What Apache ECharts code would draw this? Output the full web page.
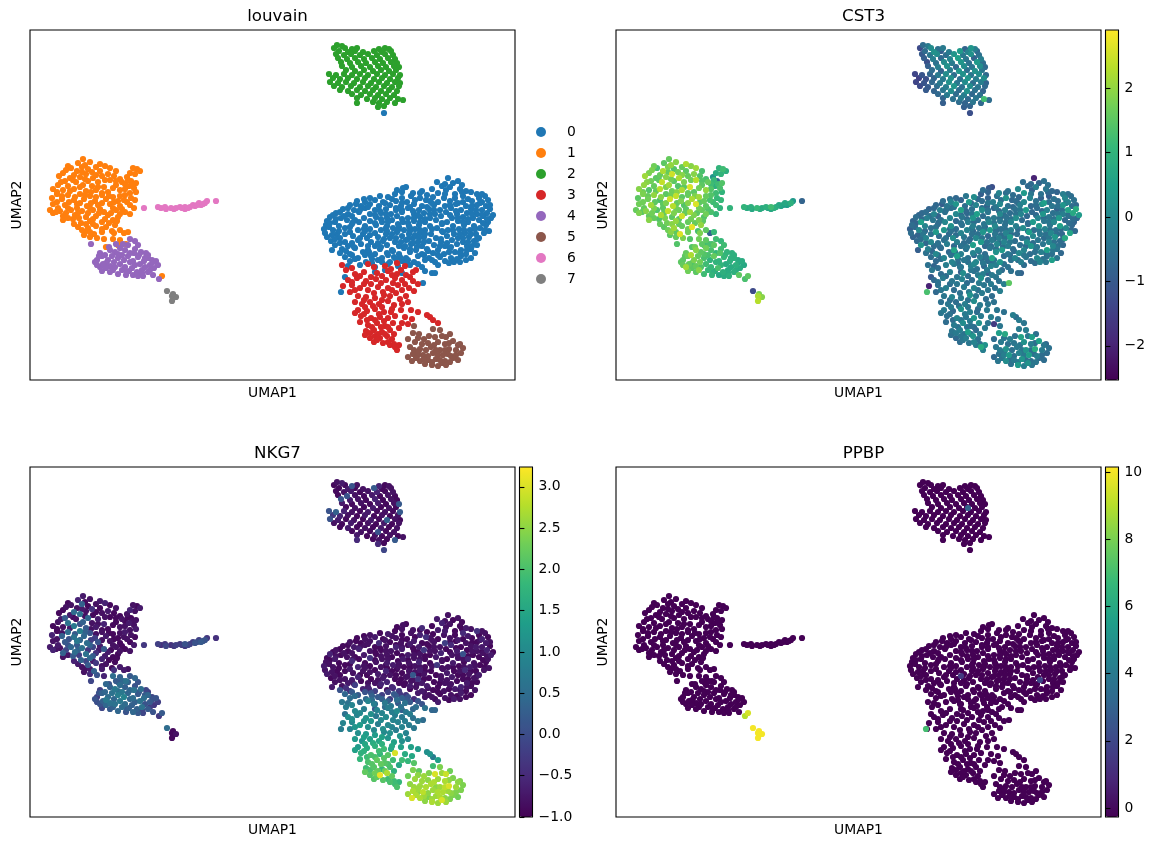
<!DOCTYPE html>
<html><head><meta charset="utf-8">
<style>html,body{margin:0;padding:0;background:#fff}#c{width:1158px;height:847px}</style>
<script src="https://cdn.jsdelivr.net/npm/echarts@6/dist/echarts.min.js"></script>
</head><body><div id="c"></div>
<script>
// rows: [UMAP1, UMAP2, CST3, NKG7, PPBP (only when above baseline)]
const cluster0 = [
[418,202,-2,-.8],[407,198,-.6,-.7],[423,197,-.8,-.9],[428,199,-.5,-.8],[376,193,-1.2,-.9],[412,194,-.7,-.6],[420,193,-.2,-.8],
[367,190,-.6,-.9],[373,192,-1,-.8],[392,189,-.5,-.5],[402,191,0,-.9],[416,190,-.8,-.8],[430,191,-.4,-.9],[436,189,-.7,-.7],
[365,186,-.9,-.9],[383,187,-.1,-.8],[397,185,-.6,-.9],[408,187,.4,-.7],[425,186,-.5,-.9],[441,188,-.8,-.8],[447,186,-.2,-.4],
[340,182,-.7,-.8],[350,184,-.4,-.9],[358,183,.1,-.7],[372,182,-.8,-.9],[381,184,-.5,-.8],[390,182,.2,-.6],[403,183,-.7,-.9],[414,182,-.1,-.8],[433,184,-.9,-.5],[449,182,0,-.9],[455,184,-.6,-.8],
[327,179,-.6,-.9],[335,178,-.1,-.8],[345,180,-.8,-.7],[353,178,.4,-.9],[366,179,-.6,-.8],[377,178,-.2,-.9],[396,180,-.7,-.4],[408,178,0,-.9],[420,179,-.5,-.8],[428,177,.5,-.7],[442,179,-.6,-.9],[452,178,-.1,-.6],[458,180,-.5,-.9],
[320,175,-.7,-.8],[331,174,-.4,-.9],[340,176,.3,-.8],[349,174,-.6,-.5],[360,175,-.1,-.9],[371,174,-.8,-.8],[384,176,0,-.7],[392,174,-.5,-.9],[404,175,-.2,-.8],[415,174,-.7,-.2],[426,176,.2,-.9],[436,174,-.4,-.8],[447,175,.3,-.9],[456,174,-.6,-.7],
[313,171,-.8,-.9],[324,170,-.2,-.7],[335,172,-.6,-.8],[345,170,.6,-.9],[356,171,-.5,-.8],[366,170,.1,-.6],[378,172,-.7,-.9],[389,170,-.2,-.7],[399,171,-.5,-.9],[410,170,.4,-.8],[421,172,-.6,-.5],[431,170,-.1,-.9],[441,171,-.8,-.8],[452,170,.6,-.7],[460,171,.8,-.9],
[306,167,-.7,-.8],[318,166,-.1,-.9],[329,168,-.5,-.6],[340,166,0,-.8],[351,167,-.7,-.9],[361,166,.5,-.8],[372,168,-.4,-.7],[384,166,0,-.9],[394,167,-.6,-.3],[405,166,-.1,-.8],[416,168,-.7,-.9],[427,166,.3,-.7],[437,167,-.5,-.9],[447,166,-.2,-.8],[457,167,.7,-.6],[463,165,.4,-.9],
[300,163,-.6,-.6],[311,162,-.2,-.9],[322,164,-.8,-.8],[334,162,-.1,-.7],[346,163,-.4,-.9],[357,162,.3,-.8],[367,164,-.6,-.9],[378,162,-.3,-.7],[390,163,-.5,-.8],[400,162,.1,-.9],[411,164,-.7,-.6],[422,162,-.1,-.8],[433,163,-.4,.1],[443,162,.4,-.9],[453,164,-.5,-.8],[461,162,-.7,-.7],
[297,159,-.8,-.9],[305,158,.5,-.7],[317,160,-.4,-.8],[329,158,0,-.9],[340,159,-.7,-.4],[352,158,-.2,-.8],[362,160,-.5,-.9],[373,158,0,-.7],[384,159,-.4,-.8],[395,158,-.1,-.9],[406,160,-.6,-.7],[417,158,.4,-.9],[428,159,-.4,-.8],[438,158,0,-.6],[449,160,-.7,-.9],[458,158,-.8,-.8],
[296,155,-.6,-.8],[309,154,-.1,-.9],[322,156,-.7,-.5],[335,154,.2,-.9],[346,155,-.5,-.8],[357,154,-.2,-.7],[368,156,-.4,-.9],[379,154,0,-.8],[389,155,-.5,-.6],[400,154,-.2,-.9],[412,156,-.6,-.8],[423,154,.3,-.7],[434,155,-.4,-.9],[444,154,.5,-.8],[456,155,-.7,-.9],
[294,151,-.9,-.7],[303,150,0,-.8],[315,152,-.5,-.9],[328,150,.3,-.6],[340,151,-.6,-.9],[351,150,-.1,-.8],[363,152,-.4,-.7],[374,150,.4,-.9],[385,151,-.5,-.8],[395,150,-.2,-.9],[407,152,.1,-.3],[418,150,-.6,-.8],[429,151,-.1,-.9],[440,150,-.5,-.7],[450,152,0,-.9],[459,149,-.7,-.8],
[295,147,-.6,-.8],[307,146,-.4,-.9],[320,148,.4,-.7],[333,146,-.7,-.8],[345,147,-.1,-.9],[356,146,-.5,-.6],[367,148,.3,-.9],[379,146,-.4,-.8],[390,147,-.1,-.7],[401,146,-.6,-.9],[413,148,.5,-.8],[424,146,-.4,-.9],[435,147,0,-.5],[446,146,-.7,-.9],[454,147,.6,-.8],
[297,143,-.8,-.7],[310,142,-.1,-.9],[323,144,-.6,-.8],[337,142,.1,-.9],[348,143,-.4,-.7],[360,142,0,-.8],[372,144,-.7,-.9],[383,142,-.2,.2],[394,143,.4,-.8],[406,142,-.5,-.9],[417,144,0,-.7],[428,142,-.6,-.9],[439,143,.3,-.8],[449,142,.7,-.7],
[301,139,-.7,-.9],[315,138,0,-.8],[328,140,-.5,-.6],[341,138,-.2,-.9],[353,139,-.6,-.7],[365,138,.4,-.9],[376,140,-.3,-.8],[388,138,-.1,-.4],[399,139,-.6,-.9],[411,138,.1,-.8],[422,140,-.4,-.7],[433,138,-.1,-.9],[444,139,-.6,-.8],
[305,135,.2,-.8],[318,134,-.6,-.7],[331,136,-.2,-.9],[345,134,-.5,-.8],[357,135,.5,-.6],[369,134,-.7,-.9],[381,136,0,-.8],[392,134,-.2,-.7],[404,135,-.5,-.9],[415,134,.3,-.8],[427,136,-.4,-.9],[437,134,0,-.7],[447,135,-.7,-.9],
[302,130,-.9,-.7],[312,131,-.2,-.8],[325,132,-.6,-.2],[338,130,.6,-.7],[350,131,-.5,-.8],[362,130,-.1,-.6],[374,132,-.4,-.9],[386,130,.4,-.8],[397,131,-.6,-.7],[408,130,-.1,-.9],[420,132,-.5,-.8],[431,130,.5,-.6],[441,131,-.4,-.9],
[310,127,-.5,.1],[320,126,0,-.4],[333,128,-.7,-.6],[345,126,-.2,-.2],[357,127,-.1,-.8],[369,126,-.6,-.3],[380,128,.2,-.9],[392,126,-.4,-.7],[403,127,0,-.9],[414,126,-.6,-.8],[425,128,-.2,-.7],[436,126,-.5,-.9],[445,127,-.7,-.8],
[315,123,-.6,.4],[328,122,-.1,.2],[341,124,.5,.1],[352,122,-.5,-.2],[364,123,-.2,.2],[376,122,.6,-.3],[388,124,-.6,-.7],[399,122,-.1,-.8],[410,123,-.4,-.9],[421,122,0,-.8],[431,124,-.5,-.7],[441,122,-.4,-.9],
[320,119,-.7,.5],[336,118,-.1,.4],[348,120,-.4,.2],[360,118,0,-.2],[372,119,-.6,.3],[384,118,.3,-.5],[395,120,-.5,-.8],[405,118,-.2,-.9],[415,119,-.6,-.8],[424,118,-.1,-.7],[436,120,.5,-.9],
[318,114,-.8,.6],[330,115,-.2,.5],[345,113,-.5,.4],[358,116,0,.3],[368,114,-.7,.2],[380,115,-.2,.2],[392,113,-.5,.1],[408,115,-.6,-.7],[345,108,-.9,.2],[355,110,-.4,.5],[402,107,-.6,.4],[395,109,-.5,.6],[372,107,-.8,.3],[354,267,-1.2,-.1],
[311,88,1.3,.8],[393,97,1.5,.5],[315,103,-1,.6],[405,107,-.8,.4]
];
const cluster0Fill = [
[415,196,-.7,-.8],[432,195,-.5,-.9],[372,188,-.8,-.8],[390,187,-.6,-.9],[415,186,-.4,-.7],[432,188,-.7,-.9],[452,186,-.5,-.8],[334,181,-.6,-.9],[362,181,-.7,-.8],[385,180,-.5,-.9],[400,179,-.6,-.8],[425,182,-.8,-.9],[438,181,-.5,-.7],
[326,176,-.9,-.9],[355,177,-.6,-.8],[372,177,-.4,-.9],[402,177,-.7,-.8],[433,178,-.5,-.9],[450,177,-.6,-.8],[318,172,-.7,-.9],[338,173,-.5,-.8],[366,172,-.6,-.9],[380,173,-.4,-.7],[397,173,-.7,-.9],[420,175,-.6,-.8],[442,174,-.5,-.9],[460,175,-.7,-.8],
[310,168,-.6,-.9],[330,170,-.5,-.8],[350,169,-.7,-.9],[372,170,-.5,-.8],[383,169,-.6,-.9],[404,170,-.4,-.8],[426,169,-.7,-.9],[446,170,-.5,-.7],[303,165,-.8,-.9],[314,164,-.5,-.8],[345,165,-.6,-.9],[356,166,-.4,-.8],[388,165,-.6,-.9],[400,166,-.5,-.8],[420,165,-.7,-.9],[442,166,-.4,-.8],[452,165,-.6,-.9],
[306,161,-.7,-.8],[325,160,-.5,-.9],[351,161,-.6,-.8],[372,161,-.4,-.9],[384,162,-.6,-.8],[395,161,-.5,-.9],[428,162,-.7,-.8],[438,161,-.5,-.9],[457,161,-.6,-.8],[300,157,-.8,-.9],[323,158,-.6,-.8],[345,157,-.5,-.9],[358,158,-.6,-.8],[378,157,-.4,-.9],[390,158,-.5,-.8],[412,157,-.7,-.9],[433,158,-.4,-.8],[453,157,-.6,-.9],
[299,153,-.7,-.8],[320,153,-.5,-.9],[334,151,-.6,-.8],[356,152,-.4,-.9],[369,153,-.7,-.8],[380,152,-.5,-.9],[402,151,-.6,-.8],[423,150,-.4,-.9],[445,151,-.7,-.8],[309,149,-.6,-.9],[335,149,-.5,-.8],[357,149,-.7,-.9],[368,150,-.4,-.8],[380,149,-.6,-.9],[390,150,-.5,-.8],[412,149,-.6,-.9],[434,150,-.5,-.8],[455,150,-.7,-.9],
[302,145,-.8,-.8],[315,146,-.5,-.9],[340,145,-.6,-.8],[362,146,-.5,-.9],[385,145,-.6,-.8],[395,146,-.7,-.9],[430,146,-.5,-.8],[441,146,-.6,-.9],[305,141,-.6,-.8],[330,142,-.5,-.9],[354,141,-.7,-.8],[366,142,-.4,-.9],[378,141,-.6,-.8],[389,142,-.5,-.9],[411,141,-.7,-.8],[433,142,-.4,-.9],[447,141,-.6,-.8],
[310,137,-.7,-.8],[322,137,-.5,-.7],[348,137,-.6,-.8],[371,138,-.5,-.9],[383,137,-.7,-.8],[394,138,-.4,-.9],[417,137,-.6,-.8],[438,138,-.5,-.9],[324,133,-.6,-.7],[338,134,-.7,-.8],[351,133,-.4,-.6],[375,134,-.6,-.9],[387,133,-.5,-.8],[410,134,-.6,-.9],[421,133,-.4,-.8],[442,134,-.5,-.9],
[316,129,-.7,-.4],[339,128,-.5,-.6],[363,129,-.6,-.5],[380,131,-.5,-.7],[398,129,-.6,-.8],[419,128,-.5,-.9],[437,130,-.4,-.8],[322,125,-.6,.2],[335,125,-.5,.1],[358,125,-.7,-.2],[370,123,-.5,-.3],[394,125,-.6,-.8],[408,125,-.4,-.9],[430,127,-.6,-.8],
[325,121,-.6,.5],[342,121,-.5,.3],[366,121,-.7,.2],[378,120,-.4,.1],[402,120,-.6,-.8],[427,121,-.5,-.9],[342,117,-.6,.5],[352,118,-.5,.3],[376,117,-.7,.2],[388,116,-.5,.1],[419,117,-.6,-.9],[430,118,-.4,-.8]
];
const cluster1 = [
[53,221,1.6,-.7],[60,218,1.9,-.8],[48,217,1.5,-.6],[38,214,1.7,-.9],[41,212,1.3,-.8],[55,215,2,-.9],[70,216,2.2,-.7],[52,213,1.8,.3],[58,211,1.4,-.9],[66,213,1.6,-.8],[75,214,1.9,-.6],[80,212,2.1,-.9],
[47,209,2.2,-.8],[62,208,1.7,-.4],[70,209,1.5,-.9],[86,209,1.3,-.8],[107,211,1.2,-.9],[103,212,1,-.8],[110,209,.9,-.7],[33,207,1.8,-.9],[44,205,1.6,.5],[56,206,2.5,-.8],[78,206,1.9,-.7],[84,204,1.4,-.9],[100,207,.8,-.6],[105,206,1,-.8],
[29,204,2.1,-.9],[40,202,1.5,-.7],[50,203,1.9,.6],[63,202,2.2,-.9],[72,204,1.6,-.8],[90,201,1.3,-.9],[97,203,.3,-.8],[35,199,1.7,.2],[46,198,2.4,-.8],[58,199,1.5,.4],[68,198,1.8,-.7],[80,200,2.3,-.9],[92,198,1.6,-.8],[101,199,-.7,-.9],[95,196,1.2,-.9],
[28,195,2,-.8],[38,194,1.6,.6],[53,195,2.1,.3],[62,194,1.4,-.8],[74,193,2.6,-.6],[86,195,1.5,-.9],[99,194,.9,-.7],[104,192,1.3,-.8],[23,191,1.9,-.9],[33,190,1.4,-.8],[44,191,2.3,.7],[56,189,1.7,.2],[66,190,2.2,-.7],[78,188,1.5,-.9],[90,190,2,-.8],[106,188,1,-.7],
[27,186,1.8,-.9],[38,185,2,.5],[50,186,1.5,.8],[60,184,2.4,.1],[72,185,1.6,-.8],[83,183,2.1,-.9],[95,185,1.4,-.7],[101,182,1.1,-.8],[22,182,1.5,-.6],[32,181,1.7,.3],[44,180,1.3,.6],[54,181,2.5,.4],[65,179,1.8,-.2],[76,181,2.2,-.7],[88,179,1.6,-.9],[97,178,1.2,-.8],
[23,176,1.7,-.8],[35,175,2.1,.2],[47,176,1.5,.7],[57,174,2.3,.5],[68,175,1.4,.1],[80,176,2.6,-.8],[90,174,1.5,-.9],[104,172,1,-.7],[20,170,1.6,-.7],[30,169,1.9,-.8],[41,170,1.4,.4],[52,169,2.4,.6],[63,170,1.7,-.1],[74,168,2.1,.2],[86,170,1.6,-.8],[95,168,1.3,-.9],
[23,167,1.8,-.6],[33,164,1.6,.3],[45,165,2.2,.5],[56,163,1.5,.6],[66,164,2.5,-.4],[78,165,1.8,-.7],[88,163,1.4,-.9],[100,166,1.1,-.8],[33,160,1.9,-.8],[43,161,1.4,.2],[60,159,2,.4],[72,158,1.6,-.6],[83,160,1.8,-.9],[51,157,1.7,.3],
[48,153,1.5,-.7],[58,152,2.1,.2],[66,154,1.6,-.3],[76,153,2.7,-.8],[85,155,2,-.9],[90,150,1.5,-.7],[55,148,1.9,-.8],[64,146,2.6,.3],[72,148,1.7,-.7],[82,149,1.3,-.9],[98,148,1.1,-.8],[94,147,-.8,-.7],
[60,143,1.6,-.5],[67,142,1.8,.1],[74,141,1.4,-.6],[54,145,1.5,-.8],[76,133,1.4,.4],[83,141,1.7,.5],[90,140,1.5,.3],[96,136,1.3,.6],[88,135,1.2,.2],[84,147,1.8,-.4],[132,104,1.5,.2,9.5],
[36,210,1.8,-.8],[52,208,1.6,-.7],[66,205,1.9,-.9],[75,200,1.7,-.8],[43,200,1.5,-.9],[31,198,1.9,-.7],[55,201,1.7,-.8],[86,199,1.4,-.9],[102,196,1.2,-.8],[98,200,1.1,-.9],[106,197,1.4,-.8],[40,189,1.6,-.7],[50,193,1.8,.1],[68,193,1.5,-.8],[83,192,1.7,-.9],[95,191,1.4,-.8],[27,188,1.7,-.9],[61,188,1.9,-.8],[72,187,1.6,-.9],[100,187,1.2,-.8],
[32,184,1.6,-.8],[45,183,1.9,.2],[55,185,1.7,.3],[66,183,1.5,-.8],[79,184,1.8,-.9],[90,184,1.6,-.8],[105,180,1.1,-.9],[27,178,1.7,-.8],[39,178,1.5,.1],[50,177,1.8,.4],[61,177,1.6,-.2],[72,177,1.9,-.8],[84,178,1.5,-.9],[94,180,1.3,-.8],[100,175,1.2,-.9],[28,172,1.6,-.7],[38,172,1.8,.1],[47,172,1.5,.2],[60,172,1.7,.3],[70,171,1.5,-.7],[83,172,1.7,-.8],[92,171,1.4,-.9],
[26,168,1.5,-.8],[36,167,1.7,-.1],[48,167,1.6,.3],[58,167,1.8,-.3],[69,167,1.6,-.7],[81,167,1.5,-.9],[90,166,1.7,-.8],[38,162,1.6,-.8],[49,162,1.8,-.2],[63,161,1.5,.2],[75,161,1.7,-.7],[87,159,1.5,-.9],[44,156,1.6,-.6],[56,156,1.9,-.1],[63,156,1.6,-.7],[72,151,1.7,-.8],[60,148,1.5,-.7],[52,150,1.7,-.8],[79,157,1.6,-.9]
];
const cluster2 = [
[307,335,-.6,-.8],[312,334,-.3,-.7],[304,332,-1.3,-.9],[315,332,.1,-.9],[322,331,-.5,.1],[327,332,-.3,-.8],[349,331,-.8,-.6],[355,332,.3,-.9],[359,331,-.2,-.8],
[309,329,-.6,-.9],[318,328,.2,-.7],[325,329,-.9,-.9],[333,328,-.3,-.8],[344,329,.4,.2],[352,328,-.1,-.9],[361,329,-.7,-.8],[306,326,-1,-.9],[314,325,-.4,-.8],[321,326,.1,-.7],[330,325,-.6,-.9],[338,326,.3,-.8],[347,325,-.3,-.6],[355,326,.2,-.9],[363,325,-.5,-.8],
[308,322,-.9,-.9],[317,321,-.2,.1],[325,322,-.7,-.8],[334,321,-.1,-.9],[342,322,.5,-.7],[350,321,-.4,-.9],[358,322,-.8,-.8],[365,321,-.2,-.9],[311,318,-1.2,.1],[320,317,-.5,-.7],[328,318,.1,-.8],[336,317,-.3,-.9],[345,318,.3,-.6],[353,317,-.5,-.9],[361,318,.4,-.8],[367,317,-.6,-.9],
[312,314,-.9,-.7],[322,313,-.2,-.9],[331,314,.2,-.8],[340,313,-.7,-.9],[348,314,.1,-.7],[356,313,-.4,-.9],[364,314,.1,-.8],[369,313,-.7,.2],[316,310,-.6,-.9],[325,309,-.8,-.8],[334,310,-.2,-.9],[343,309,.3,-.7],[351,310,-.5,-.9],[359,309,.2,-.8],[366,310,-.4,-.9],
[299,306,-1.4,.1],[306,305,-1.1,.3],[314,306,-.8,-.6],[322,305,-.3,-.8],[330,306,.1,-.9],[338,305,-.6,-.7],[347,306,.2,-.9],[355,305,-.4,-.8],[363,306,.1,-.9],[370,305,-.7,.2],[303,302,-1.5,-.3],[310,301,-1.2,-.6],[318,302,-.8,-.8],[327,301,-.3,-.9],[335,302,.2,-.7],[344,301,-.5,-.9],[352,302,.3,-.8],[360,301,-.2,-.9],[368,302,.1,-.8],
[300,298,-1.4,.1],[308,297,-1.1,-.7],[316,298,-.7,-.9],[324,297,-.3,-.8],[333,298,.2,-.9],[341,297,-.4,-.7],[349,298,.1,-.9],[357,297,-.6,.3],[365,298,-.2,-.8],[370,297,-.8,-.9],[304,294,-1.3,-.8],[312,293,-1,-.9],[321,294,-.6,-.7],[330,293,-.2,-.9],[338,294,.3,-.8],[346,293,-.5,-.9],[354,294,.1,-.7],[362,293,-.4,-.9],[369,294,-.7,-.8],
[310,290,-1,-.9],[318,289,-.8,-.7],[327,290,-.4,-.9],[335,289,.1,-.8],[343,290,-.6,-.9],[351,289,.2,-.7],[359,290,-.5,-.9],[367,289,-.8,-.8],[322,286,-.7,-.9],[331,285,-.3,-.8],[340,286,-.6,-.9],[348,285,-.2,.1],[356,286,-.7,-.9],[364,285,-.5,-.8],
[327,282,-.8,-.7],[337,281,-.5,-.9],[345,282,-.3,-.8],[352,281,-.7,-.9],[360,282,-.4,-.8],[368,281,1.2,-.9],[373,280,-.6,-.8],[327,277,-.9,-.5],[343,278,-.6,-.9],[349,277,-.8,-.8],[357,278,-.4,-.9],[365,277,-.7,.2],[348,273,-.9,-.5],[354,274,-.8,-.9]
];
const cluster3 = [
[312,115,-.5,.7],[338,116,-.3,.9],[355,114,-.2,.7],[367,117,-.4,.5],[375,114,-.1,.6],[383,108,-.3,.4],[386,110,-.6,.5],[316,110,-.4,.8],[325,106,-.6,1],[334,108,-.2,.8],[347,107,.1,.9],[358,109,-.5,.8],[367,106,-.2,1],[376,105,-.3,.7],
[318,100,-.7,1.1],[327,102,-.3,.9],[336,99,-.4,1.2],[346,101,-.1,.7],[356,100,-.6,1],[365,102,.2,.8],[375,96,-.3,.8],[383,99,-.5,.6],[388,96,-.2,.7],[313,94,-2,.9],[322,95,-.5,1],[330,92,-.2,1.3],[338,90,-.6,1.1],[348,93,-.3,.8],[358,92,-.1,1],[368,95,-.4,.9],
[320,88,-.7,.9],[328,84,-.4,1.1],[336,83,-.1,1.3],[344,87,-.5,1],[354,85,.2,1],[366,87,-.3,.8],[376,84,-.6,.9],[384,89,-.2,.7],[332,76,-.4,1.2],[340,78,-.6,1.4],[349,76,-.2,1.5],[358,79,.1,1.2],[364,75,-.3,1.4],[372,76,-.4,1.1],[378,78,-.5,1],
[328,70,-.3,1.3],[337,69,-.7,1.6],[345,71,.2,1.7],[354,68,-.2,1.9],[361,68,-.6,1.5],[371,70,-.3,1.4],[381,70,-.4,1.4],[388,68,-.5,1.3],[397,65,-.2,1.1],[400,63,-.6,1.2],[403,60,-.3,.8],[408,57,-.4,1.4],[331,64,-.5,1.7],[341,62,-.1,2],[350,63,-.4,1.8],[358,62,.3,2.1],[365,64,-.3,3],
[375,63,-.2,1.6],[378,56,-1.6,1.8],[382,61,-.5,1.5],[369,52,-.3,1.5],[372,57,-.4,1.9],[330,58,-.6,1.8],[338,55,-.3,2],[347,57,.1,2.2],[355,54,-.5,2.1],[363,57,.2,1.9],[336,49,-.4,1.9],[344,50,-.2,2.1],[352,48,.5,1.8],[360,50,-.6,2],[364,46,-.3,1.7],
[335,45,-.5,2.2],[340,42,-.7,2.1],[350,42,-.2,3.1],[357,44,.3,2.7],[345,44,-.4,2.3],[362,41,-.5,2.2],[358,38,-.1,1.9],[353,37,-.4,2.1],[365,33,.8,1.9],[369,35,.2,1.8],[367,30,-.2,2],
[322,112,-.6,.9],[344,113,-.4,.8],[361,111,-.5,.7],[371,110,-.3,.6],[330,104,-.6,1],[341,103,-.4,1.1],[352,104,-.5,.9],[362,105,-.3,.8],[372,100,-.6,.7],[380,103,-.4,.8],[322,98,-.5,1.1],[341,96,-.4,1.2],[351,97,-.6,1],[363,97,-.3,.9],[379,92,-.5,.8],[325,90,-.4,1.2],[334,96,-.6,1.1],[353,88,-.3,1.1],[362,90,-.5,.9],[372,90,-.4,.9],
[325,78,-.5,1.3],[334,80,-.6,1.4],[345,82,-.3,1.3],[352,80,-.5,1.4],[360,84,-.4,1.1],[370,81,-.6,1.2],[335,73,-.3,1.5],[343,74,-.5,1.6],[352,73,-.4,1.7],[362,71,-.6,1.5],[325,67,-.4,1.4],[334,66,-.5,1.7],[349,66,-.3,1.9],[337,60,-.6,1.9],[345,60,-.4,2],[354,59,-.3,2.1],[342,53,-.5,2.1],[351,53,-.4,2.2],[358,53,-.6,2],[340,47,-.3,2],[348,46,-.5,2.2],[355,46,-.4,2.3],[344,38,-.6,2.1],[347,40,-.4,2.2],[360,35,-.3,2],[364,36,-.5,1.9]
];
const cluster4 = [
[61,136,1.4,-.1],[100,141,1.2,.2],[105,139,1.1,.4],[86,136,1.5,.2],[90,132,1.7,.5],[80,130,1.9,.3],[70,127,1.6,-.2],[75,125,2.2,.4],[85,128,1.5,.7],[95,130,1.3,.3],[105,131,1.2,.1],[111,128,1,.5],[116,127,.9,-.1],
[67,120,1.5,-.2],[78,120,1.8,.5],[88,122,1.3,.8],[98,124,1.6,.4],[108,123,1.1,.2],[118,122,.9,.4],[122,120,.8,-.1],[70,113,2.1,.1],[80,114,1.6,.6],[90,116,1.2,.7],[100,118,1,.4],[110,116,.8,.6],[120,115,.9,.2],[128,115,.7,-.2],[126,119,.8,.1],
[72,109,1.7,-.1],[83,110,1.9,.3],[92,110,1.1,.5],[102,112,1.3,.3],[112,110,.8,.6],[118,108,.9,.2],[96,105,1,.1],[103,105,.7,.4],[108,104,.8,.2],[113,104,.9,-.1],[123,105,1.5,.1],[129,101,1.3,-.3,9],[76,117,1.4,.7],[94,120,1,.9],[104,127,1.4,.6],[114,119,.9,.5],[84,118,1.7,.4],[99,109,.8,.3],
[65,118,1.5,.1],[72,124,1.7,.3],[82,124,1.6,.6],[92,125,1.3,.7],[100,127,1.1,.4],[109,125,1,.2],[118,125,.9,-.2],[73,116,1.6,.3],[85,113,1.4,.6],[95,113,1.1,.5],[105,115,1,.3],[115,113,.8,.1],[124,112,.8,-.3],[123,118,.7,.1],[80,108,1.5,.2],[88,106,1.2,.4],[97,108,.9,.2],[107,108,.9,.3],[112,107,.8,-.1],[76,112,1.5,.4],[88,126,1.4,.5],[98,135,1.5,.3],[93,136,1.3,.4],[79,133,1.7,.1],[108,135,1.2,.1],[115,122,.9,.2],[120,110,.8,-.2],[67,115,1.6,0],[69,124,1.5,.1],[103,119,1,.5]
];
const cluster5 = [
[384,54,-.4,2.1],[403,51,-.3,1.9],[410,50,-.2,2.4],[405,43,.6,3],[416,43,.5,2.9],[420,46,-.5,2.3],[383,47,.5,2.4],[389,46,.7,2.2],[394,41,-.2,2.6],[378,41,-.6,2.3],[385,38,-.3,2.6],[398,37,-.4,2.5],[408,38,.2,2.6],[415,36,-.2,2.7],[423,39,.5,2.4],[428,35,-.4,2.5],
[380,33,-.4,2.5],[390,31,.2,2.6],[401,33,-.3,2.7],[410,30,.3,2.6],[419,31,.8,3],[426,30,-.3,2.6],[433,32,-.5,2.4],[383,26,-.5,2.7],[393,25,.4,2.8],[403,27,-.1,2.6],[413,25,.5,2.7],[421,24,-.2,2.5],[431,27,-.6,2.4],[378,23,-.7,2.6],[382,19,-.4,3],[390,19,.1,2.7],[398,20,-.3,2.4],[406,21,.3,2.6],[415,19,-.5,2.5],[412,17,.2,3],[420,18,-.4,2.4],[428,20,-.6,2.3],[402,15,.4,2.7],[408,14,-.2,2.6],[395,16,-.5,2.5],[388,25,-.2,2.5],
[388,42,-.4,2.5],[399,44,-.5,2.4],[412,44,-.3,2.6],[392,36,-.5,2.6],[404,35,-.4,2.7],[419,37,-.6,2.5],[384,30,-.3,2.6],[396,30,-.5,2.7],[406,30,-.4,2.5],[415,30,-.5,2.8],[430,36,-.7,2.4],[388,28,-.4,2.6],[398,24,-.5,2.5],[408,25,-.3,2.7],[418,26,-.5,2.6],[426,25,-.6,2.4],[386,22,-.4,2.7],[394,21,-.5,2.6],[402,18,-.3,2.6],[410,20,-.5,2.7],[423,22,-.6,2.4],[416,15,-.4,2.6]
];
const cluster6 = [
[114,172,1,-.3],[128,173,1,-.2],[131,172,.8,-.4],[136,171,.7,-.1],[141,172,1.1,-.4],[146,172,.8,-.2],[150,173,.9,-.3],[155,173,1.2,.1],[155,171,.7,-.3],[160,173,.8,-.2],[165,174,.6,.1],[169,177,.7,-.2],[171,175,.5,.2],[175,177,.9,.1],[177,179,.4,-.3],[186,179,-.8,-.4],[135,173,.9,-.3],[144,171,.8,-.3],[152,172,.7,-.2],[158,172,.9,-.1],[163,175,.7,-.2],[167,175,.5,0],[173,176,.6,.1]
];
const cluster7 = [
[137,89,-1.3,.5,10],[142,84,2.2,-.9,10],[143,82,2,-.9,10],[146,83,1.9,-.8,10],[142,79,2.3,-.9,10],[143,86,1.8,-.9,10]
];
const clusters = [cluster0.concat(cluster0Fill), cluster1, cluster2, cluster3, cluster4, cluster5, cluster6, cluster7];
const clusterNames = ['0','1','2','3','4','5','6','7'];
const clusterColors = ['#1f77b4','#ff7f0e','#2ca02c','#d62728','#9467bd','#8c564b','#e377c2','#7f7f7f'];
const ppbpBaseline = -0.27;
const ppbpExtras = [[310,88,7],[424,137,2],[345,141,1.5],[352,309,3]];
const cstTicks = [-2,-1,0,1,2];
const nkgTicks = [-1,-.5,0,.5,1,1.5,2,2.5,3];
const ppbpTicks = [0,2,4,6,8,10];
const viridis = ['#440154','#482878','#3e4989','#31688e','#26828e','#1f9e89','#35b779','#6ece58','#b5de2b','#fde725'];

const all = clusters.flat();
const byVal = (idx) => all.map(r => [r[0], r[1], idx === 4 ? (r[4] === undefined ? ppbpBaseline : r[4]) : r[idx]]);
const sorted = a => a.slice().sort((p, q) => p[2] - q[2]);
const font = 'DejaVu Sans';
const txt = '#000';
const panels = [
  {l:30,t:30,name:'louvain'},
  {l:616,t:30,name:'CST3',data:sorted(byVal(2)),min:-2.53,max:2.9,ticks:cstTicks,cb:1105.5,fmt:v=>String(v)},
  {l:30,t:467,name:'NKG7',data:sorted(byVal(3)),min:-1,max:3.24,ticks:nkgTicks,cb:519.5,fmt:v=>v.toFixed(1)},
  {l:616,t:467,name:'PPBP',data:sorted(byVal(4).concat(ppbpExtras)),min:-.27,max:10.15,ticks:ppbpTicks,cb:1105.5,fmt:v=>String(v)}
];
const W=485,H=350,DOT=6.2,grid=[],xAxis=[],yAxis=[],series=[],visualMap=[],title=[];
panels.forEach((p,i)=>{
  grid.push({left:p.l,top:p.t,width:W,height:H,show:true,borderColor:'#000',borderWidth:1.1,backgroundColor:'transparent',containLabel:false});
  xAxis.push({gridIndex:i,type:'value',min:0,max:W,name:'UMAP1',nameLocation:'middle',nameGap:6,nameTextStyle:{fontFamily:font,fontSize:13.9,color:txt},axisLine:{show:false},axisTick:{show:false},axisLabel:{show:false},splitLine:{show:false}});
  yAxis.push({gridIndex:i,type:'value',min:0,max:H,name:'UMAP2',nameLocation:'middle',nameGap:6,nameTextStyle:{fontFamily:font,fontSize:13.9,color:txt},axisLine:{show:false},axisTick:{show:false},axisLabel:{show:false},splitLine:{show:false}});
  title.push({text:p.name,left:p.l+W/2,top:p.t-27,textAlign:'center',textStyle:{fontFamily:font,fontSize:16.67,fontWeight:'normal',color:txt}});
});
clusters.forEach((c,i)=>{
  series.push({type:'scatter',name:clusterNames[i],xAxisIndex:0,yAxisIndex:0,data:c.map(r=>[r[0],r[1]]),symbolSize:DOT,itemStyle:{color:clusterColors[i],opacity:1},silent:true,animation:false});
});
panels.slice(1).forEach((p,k)=>{
  const gi=4+k;
  series.push({type:'scatter',xAxisIndex:k+1,yAxisIndex:k+1,data:p.data,symbolSize:DOT,itemStyle:{opacity:1},silent:true,animation:false});
  visualMap.push({type:'continuous',seriesIndex:8+k,dimension:2,min:p.min,max:p.max,left:p.cb,top:p.t,itemWidth:13,itemHeight:H,padding:0,text:null,showLabel:false,calculable:false,hoverLink:false,realtime:false,inRange:{color:viridis}});
  grid.push({left:p.cb,top:p.t,width:13,height:H,show:true,borderColor:'#000',borderWidth:1.1,backgroundColor:'transparent',z:5});
  xAxis.push({gridIndex:gi,type:'value',min:0,max:1,show:false});
  yAxis.push({gridIndex:gi,type:'value',position:'right',min:p.min,max:p.max,z:6,
    axisLine:{show:false},splitLine:{show:false},
    axisTick:{show:true,length:4.9,lineStyle:{color:'#000',width:1.1},customValues:p.ticks},
    axisLabel:{show:true,fontFamily:font,fontSize:13.9,color:txt,margin:6,customValues:p.ticks,formatter:v=>p.fmt(v).replace('-','\u2212')}});
});
const chart=echarts.init(document.getElementById('c'),null,{renderer:'canvas',width:1158,height:847});
chart.setOption({animation:false,backgroundColor:'#fff',title,grid,xAxis,yAxis,series,visualMap,
  legend:{show:true,orient:'vertical',left:536,top:125,data:clusterNames,icon:'circle',itemWidth:10,itemHeight:10,itemGap:7,selectedMode:false,padding:0,textStyle:{fontFamily:font,fontSize:13.9,color:txt,padding:[0,0,0,16]}}
});
</script></body></html>
